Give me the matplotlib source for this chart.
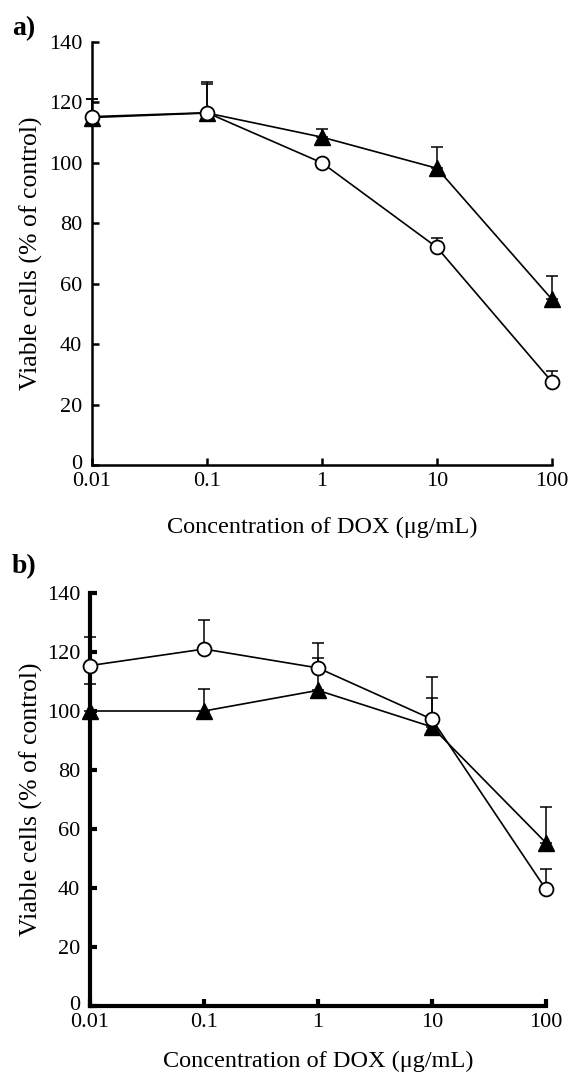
import numpy as np
import matplotlib.pyplot as plt
from matplotlib.transforms import ScaledTranslation

plt.rcParams['font.family'] = ['Liberation Serif', 'DejaVu Serif']

conc = [0.01, 0.1, 1, 10, 100]
xtick_labels = ['0.01', '0.1', '1', '10', '100']
yticks = [0, 20, 40, 60, 80, 100, 120, 140]

# panel a
a_circle = [115.3, 116.6, 100.0, 72.0, 27.5]
a_circle_err = [5.7, 10.2, 0.0, 3.0, 3.7]
a_tri = [115.0, 116.5, 108.5, 98.2, 54.8]
a_tri_err = [6.0, 9.5, 2.8, 7.2, 7.7]

# panel b
b_circle = [115.4, 121.0, 114.6, 97.2, 39.5]
b_circle_err = [9.7, 10.0, 8.4, 14.2, 6.8]
b_tri = [100.0, 100.0, 107.0, 94.6, 55.3]
b_tri_err = [9.0, 7.5, 10.8, 9.9, 12.2]

W, H = 574, 1072
fig = plt.figure(figsize=(W / 100, H / 100), dpi=100)


def px_axes(left, right, top, bottom):
    return fig.add_axes([left / W, 1 - bottom / H, (right - left) / W, (bottom - top) / H])


ax_a = px_axes(92, 552, 42, 465)
ax_b = px_axes(90, 546, 593, 1006)


def draw(ax, circ, circ_err, tri, tri_err, spine_w, xlab_y, ylab_x):
    z = np.zeros(len(conc))
    ax.errorbar(conc, tri, yerr=[z, tri_err], fmt='none', ecolor='black',
                elinewidth=1.1, capsize=4, capthick=1.1, clip_on=False)
    ax.errorbar(conc, circ, yerr=[z, circ_err], fmt='none', ecolor='black',
                elinewidth=1.1, capsize=4, capthick=1.1, clip_on=False)
    ax.plot(conc, tri, color='black', lw=1.2, marker='^', ms=11,
            mfc='black', mec='black', clip_on=False, zorder=3)
    ax.plot(conc, circ, color='black', lw=1.2, marker='o', ms=10,
            mfc='white', mec='black', mew=1.3, clip_on=False, zorder=4)
    ax.set_xscale('log')
    ax.set_xlim(0.01, 100)
    ax.set_ylim(0, 140)
    ax.set_xticks(conc)
    ax.set_xticklabels(xtick_labels)
    ax.minorticks_off()
    ax.set_yticks(yticks)
    for s in ['top', 'right']:
        ax.spines[s].set_visible(False)
    for s in ['left', 'bottom']:
        ax.spines[s].set_linewidth(spine_w)
    ax.tick_params(direction='in', length=5, width=spine_w, labelsize=16)
    ax.tick_params(axis='y', pad=7)
    ax.tick_params(axis='x', pad=5)
    # lift the "0" label a little so it sits just above "0.01"
    zero = ax.get_yticklabels()[0]
    zero.set_transform(zero.get_transform() + ScaledTranslation(0, 3 / 100, fig.dpi_scale_trans))
    ax.set_ylabel('Viable cells (% of control)', fontsize=18.5, va='center')
    ax.set_xlabel('Concentration of DOX (μg/mL)', fontsize=17.5, va='center')
    ax.xaxis.set_label_coords(0.5, xlab_y)
    ax.yaxis.set_label_coords(ylab_x, 0.5)


draw(ax_a, a_circle, a_circle_err, a_tri, a_tri_err, 1.8,
     (465 - 527) / 423, (31 - 92) / 460)
draw(ax_b, b_circle, b_circle_err, b_tri, b_tri_err, 3.0,
     (1006 - 1061) / 413, (31 - 90) / 456)

fig.text(12 / W, 1 - 35 / H, 'a)', fontsize=20, fontweight='bold', va='baseline')
fig.text(12 / W, 1 - 573 / H, 'b)', fontsize=20, fontweight='bold', va='baseline')

fig.savefig('out.png', dpi=100)
